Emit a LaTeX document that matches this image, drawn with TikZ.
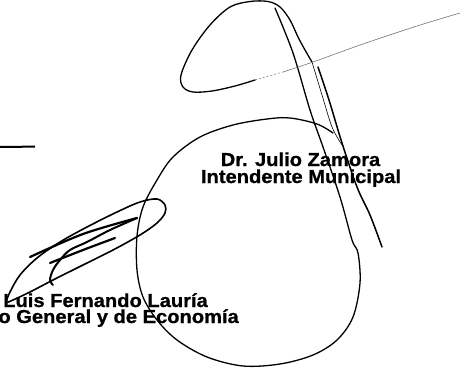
\documentclass[tikz,border=0pt]{standalone}
\usepackage{fontspec}
\setmainfont{Liberation Sans}[BoldFeatures={FakeBold=0.8}]
\usepackage{tikz}

\begin{document}
\begin{tikzpicture}[x=1pt,y=-1pt,
    firma/.style={line cap=round,line join=round,smooth,tension=0.55},
    cargo/.style={font=\bfseries\fontsize{18.8}{17}\selectfont,inner sep=0pt,xscale=1.07,transform shape}]
    \definecolor{sqsqsq}{rgb}{0.45,0.45,0.45}
    \useasboundingbox (0,0) rectangle (460,372);
    %texts
    \node[cargo,anchor=base] (zamora) at (300.5,166) {Dr. Julio Zamora};
    \node[cargo,anchor=base] (intendente) at (301,183) {Intendente Municipal};
    \node[cargo,anchor=base east] (lauria) at (208,307) {Luis Fernando Lauría};
    \node[cargo,anchor=base east] (secretario) at (239,323) {o General y de Economía};
    %rule
    \draw [line width=2pt] (0,147)-- (35,146.6);
    %firma Zamora
    \draw [firma,line width=1.3pt] plot coordinates {(333,133) (317,124) (290,118) (267,119) (233,125) (200,137) (173,157) (157,180) (143,207) (137,236) (137,270) (143,297) (157,320) (177,340) (207,357) (243,366) (280,364) (313,355) (337,340) (353,317) (360,283) (358,253) (352,240) (340,197) (323,147) (310,110) (293,53) (275,8)};
    \draw [firma,line width=1.3pt] plot coordinates {(312,62) (305,50) (298,37) (290,20) (280,7) (268,1.5) (250,1.5) (230,7) (210,25) (192,50) (181,75) (183,87) (193,92) (212,91) (235,86) (255,80)};
    \draw [firma,line width=0.6pt] plot coordinates {(312,62) (322,95) (332,127) (342,145)};
    \draw [firma,line width=1.5pt] plot coordinates {(318,67) (329,100) (342,143) (357,187) (370,215) (382,247)};
    \draw [sqsqsq,line width=0.5pt,dash pattern=on 2pt off 2pt] (255,80)-- (283,72);
    \draw [firma,sqsqsq,line width=0.6pt] plot coordinates {(283,72) (313,62) (363,44) (417,26) (460,13)};
    %firma Lauria
    \draw [firma,line width=1.6pt] plot coordinates {(6,302) (10,292) (20,275) (37,258) (60,242) (87,227) (117,212) (140,202) (157,199) (165,205) (165,213) (157,223) (140,235) (113,250) (83,265) (53,280) (30,292) (13,300) (6,303)};
    \draw [firma,line width=2.2pt] plot coordinates {(30,257) (83,234) (137,218)};
    \draw [firma,line width=2pt] plot coordinates {(137,218) (110,230) (87,242) (70,250) (60,260) (53,270) (50,280) (53,285)};
    \draw [firma,line width=2.2pt] plot coordinates {(50,263) (83,250) (115,238)};
\end{tikzpicture}
\end{document}
